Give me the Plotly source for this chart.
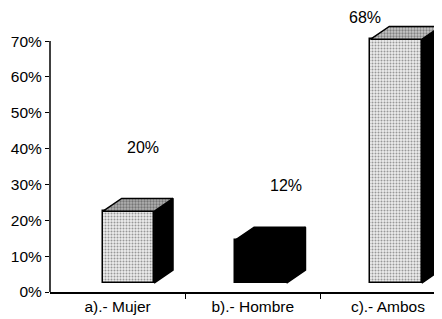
import plotly.graph_objects as go

# ---- data ----
categories = ["a).- Mujer", "b).- Hombre", "c).- Ambos"]
values = [20, 12, 68]
label_texts = ["20%", "12%", "68%"]
y_ticks = [0, 10, 20, 30, 40, 50, 60, 70]

# ---- style ----
xpos = list(range(len(categories)))
bar_w = 0.38
bar_shift = [0.08, 0.06, 0.06]   # front face shifted right of category centre
base = 2.5                       # visual floor offset of the 3D front face
dx, dy = 0.14, 3.6               # depth offset (x units, y %)
front_bg = ["#ececec", "#000000", "#ececec"]
front_shape = [".", "", "."]
top_bg = ["#b0b0b0", "#000000", "#c8c8c8"]
label_dx = [0.19, 0.246, -0.17]
label_dy = [20.4, 17.8, 8.7]
FONT = "Liberation Sans, Arial, sans-serif"

fig = go.Figure()

# front faces
fig.add_trace(go.Bar(
    x=[p + s for p, s in zip(xpos, bar_shift)], y=values, base=[base] * len(values),
    width=bar_w,
    marker=dict(color=front_bg, line=dict(color="black", width=1.5),
                pattern=dict(shape=front_shape, fgcolor="#7a7a7a",
                             bgcolor=front_bg, size=3, solidity=0.35)),
    hoverinfo="skip", showlegend=False))

for i, v in enumerate(values):
    xl = xpos[i] + bar_shift[i] - bar_w / 2
    xr = xl + bar_w
    top = base + v
    # right side face
    fig.add_trace(go.Scatter(
        x=[xr, xr + dx, xr + dx, xr, xr], y=[base, base + dy, top + dy, top, base],
        mode="lines", fill="toself", fillcolor="#000000",
        line=dict(color="black", width=1.5), hoverinfo="skip", showlegend=False))
    # top face
    tb = top_bg[i]
    fig.add_trace(go.Scatter(
        x=[xl, xl + dx, xr + dx, xr, xl], y=[top, top + dy, top + dy, top, top],
        mode="lines", fill="toself", fillcolor=tb,
        fillpattern=dict(shape="." if tb != "#000000" else "", fgcolor="#3a3a3a",
                         bgcolor=tb, size=3, solidity=0.45),
        line=dict(color="black", width=1.5), hoverinfo="skip", showlegend=False))
    fig.add_annotation(x=xpos[i] + label_dx[i], y=v + label_dy[i], text=label_texts[i],
                       showarrow=False, font=dict(family=FONT, size=16, color="black"),
                       xanchor="center", yanchor="middle")

# y-axis line stopping at the top tick
fig.add_shape(type="line", xref="paper", yref="y", x0=0, x1=0,
              y0=y_ticks[0], y1=y_ticks[-1], line=dict(color="black", width=1.5))

# the page body has an 8px default margin, so the figure is sized to fit inside it
fig.update_layout(
    width=434, height=311,
    margin=dict(l=42, r=0, t=3, b=27),
    paper_bgcolor="white", plot_bgcolor="white",
    font=dict(family=FONT, size=15, color="black"),
    bargap=0,
    xaxis=dict(range=[-0.5, 2.4], tickmode="array", tickvals=xpos, ticktext=categories,
               ticks="", showgrid=False, zeroline=False, showline=True,
               linecolor="black", linewidth=1.5,
               tickfont=dict(family=FONT, size=15.5, color="black"),
               minor=dict(tickmode="array", tickvals=[0.5, 1.5], ticks="outside",
                          ticklen=5, tickcolor="black", tickwidth=1.2, showgrid=False)),
    yaxis=dict(range=[0, 78.4], tickmode="array", tickvals=y_ticks,
               ticktext=[f"{t}%" for t in y_ticks], ticks="outside", ticklen=4,
               tickcolor="black", tickwidth=1.2, showgrid=False, zeroline=False,
               showline=False, tickfont=dict(family=FONT, size=15.5, color="black")),
)

fig.write_html("out.html")
